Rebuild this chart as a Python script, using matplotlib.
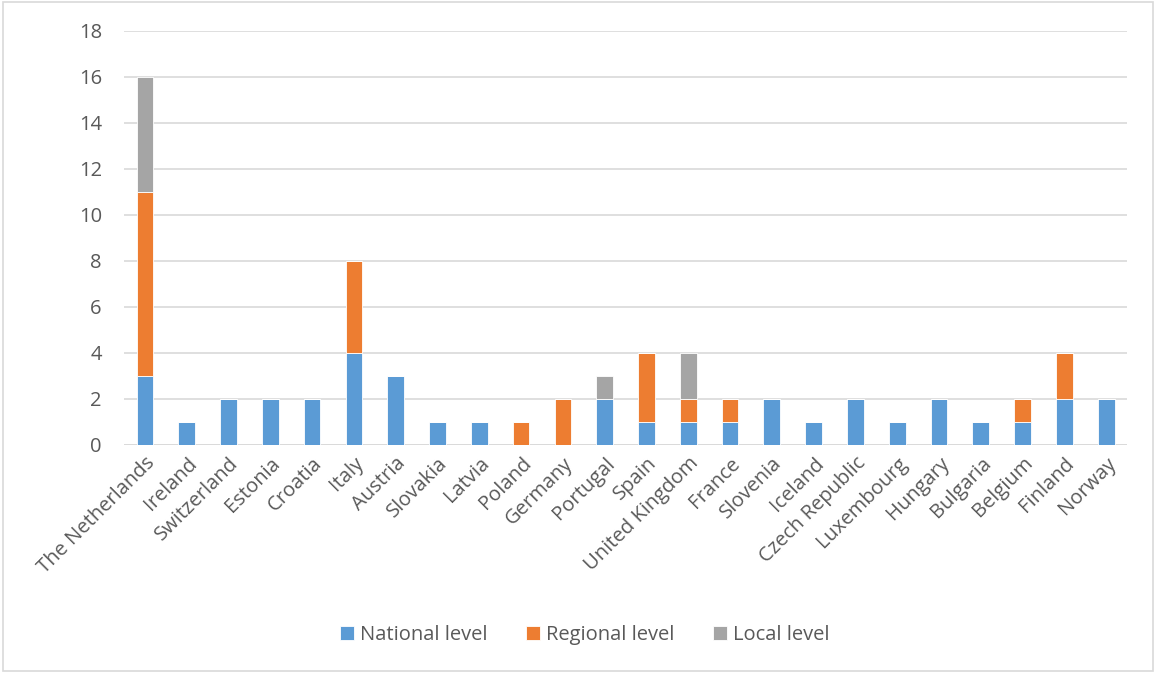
import numpy as np
import matplotlib.pyplot as plt
from matplotlib.patches import Rectangle

countries = ["The Netherlands", "Ireland", "Switzerland", "Estonia", "Croatia", "Italy",
             "Austria", "Slovakia", "Latvia", "Poland", "Germany", "Portugal", "Spain",
             "United Kingdom", "France", "Slovenia", "Iceland", "Czech Republic",
             "Luxembourg", "Hungary", "Bulgaria", "Belgium", "Finland", "Norway"]
national = [3, 1, 2, 2, 2, 4, 3, 1, 1, 0, 0, 2, 1, 1, 1, 2, 1, 2, 1, 2, 1, 1, 2, 2]
regional = [8, 0, 0, 0, 0, 4, 0, 0, 0, 1, 2, 0, 3, 1, 1, 0, 0, 0, 0, 0, 0, 1, 2, 0]
local = [5, 0, 0, 0, 0, 0, 0, 0, 0, 0, 0, 1, 0, 2, 0, 0, 0, 0, 0, 0, 0, 0, 0, 0]

plt.rcParams['font.family'] = ['Open Sans', 'DejaVu Sans']
TXT = '#595959'

fig = plt.figure(figsize=(11.56, 6.73), dpi=100)
fig.patches.append(Rectangle((0.003, 0.003), 0.994, 0.994, transform=fig.transFigure,
                             fill=False, edgecolor='#d9d9d9', linewidth=1.2))
ax = fig.add_axes([0.1073, 0.3388, 0.8677, 0.6152])

x = np.arange(len(countries))
nat = np.array(national)
reg = np.array(regional)
loc = np.array(local)
w = 0.4
ax.bar(x, nat, w, color='#5b9bd5', edgecolor='white', linewidth=0.6, label='National level', zorder=3)
ax.bar(x, reg, w, bottom=nat, color='#ed7d31', edgecolor='white', linewidth=0.6, label='Regional level', zorder=3)
ax.bar(x, loc, w, bottom=nat + reg, color='#a5a5a5', edgecolor='white', linewidth=0.6, label='Local level', zorder=3)

ax.set_xlim(-0.5, len(countries) - 0.5)
ax.set_ylim(0, 18)
ax.set_yticks(range(0, 19, 2))
ax.yaxis.grid(True, color='#d9d9d9', linewidth=1.2, zorder=0)
for s in ax.spines.values():
    s.set_visible(False)
ax.axhline(0, color='#d9d9d9', linewidth=1.2, zorder=1)
ax.tick_params(axis='both', length=0, labelsize=14.5, colors=TXT, pad=6)
ax.tick_params(axis='y', pad=16)
ax.set_xticks(x)
ax.set_xticklabels(countries, rotation=45, ha='right', rotation_mode='anchor')

ax.legend(loc='center', ncol=3, frameon=False, fontsize=14.5, labelcolor=TXT,
          handlelength=0.7, handleheight=0.7, handletextpad=0.3, columnspacing=1.9)
ax.get_legend().set_bbox_to_anchor((0.506, 0.057), transform=fig.transFigure)

fig.savefig('out.png', dpi=100)
